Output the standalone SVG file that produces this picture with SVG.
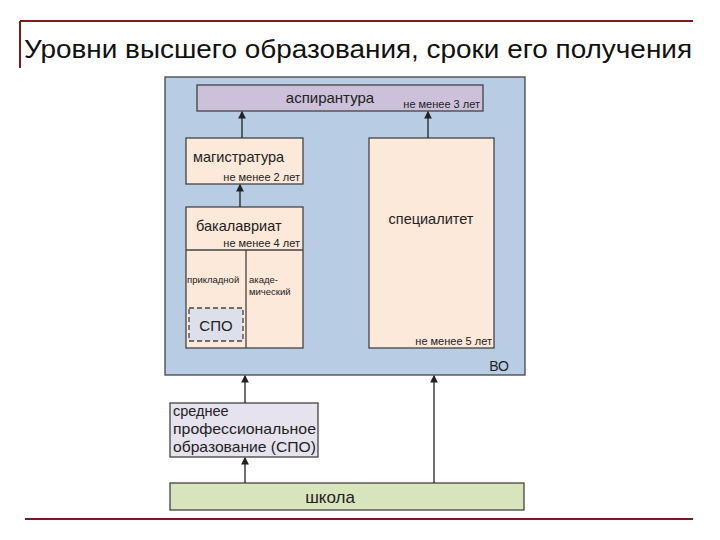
<svg xmlns="http://www.w3.org/2000/svg" width="720" height="540" viewBox="0 0 720 540">
<style>
text{font-family:"Liberation Sans",Arial,sans-serif;fill:#222}
.b{stroke:#444;stroke-width:1.3}
.s{font-size:14.5px}
.sm{font-size:11px}
.c{stroke:#222;stroke-width:1.3;fill:none;marker-end:url(#a)}
</style>
<defs><marker id="a" markerWidth="6" markerHeight="6" refX="5" refY="3" orient="auto"><path d="M0,0L6,3L0,6z" fill="#222"/></marker></defs>
<rect width="720" height="540" fill="#fff"/>
<g id="title">
<path d="M20,21H693M20,21V68M25,519H693" stroke="#7a1a1a" stroke-width="2" fill="none"/>
<text x="24" y="58" font-size="26" textLength="668" lengthAdjust="spacingAndGlyphs" style="fill:#111">Уровни высшего образования, сроки его получения</text>
</g>
<g id="vo"><rect x="165" y="77" width="360" height="298" fill="#b8cce4" class="b"/><text x="509" y="371" font-size="14" text-anchor="end">ВО</text></g>
<g id="aspirantura"><rect x="197" y="85" width="286" height="26" fill="#ccc0da" class="b"/><text x="330" y="103" font-size="15" text-anchor="middle">аспирантура</text><text x="480" y="108" class="sm" text-anchor="end">не менее 3 лет</text></g>
<g id="magistratura"><rect x="186" y="138" width="117" height="46" fill="#fde9d9" class="b"/><text x="193" y="162" class="s">магистратура</text><text x="300" y="181" class="sm" text-anchor="end">не менее 2 лет</text></g>
<g id="bakalavriat"><rect x="186" y="207" width="117" height="141" fill="#fde9d9" class="b"/><path d="M186,250H303M246,250V348" class="b"/><text x="196" y="231" class="s">бакалавриат</text><text x="300" y="247" class="sm" text-anchor="end">не менее 4 лет</text><text x="187" y="283" font-size="9.5">прикладной</text><text x="249" y="283" font-size="9.5">акаде-</text><text x="249" y="295" font-size="9.5">мический</text></g>
<g id="spo-inner"><rect x="189" y="308" width="54" height="33" fill="#dde0ea" stroke="#444" stroke-width="1.3" stroke-dasharray="5,3"/><text x="216" y="331" font-size="15" text-anchor="middle">СПО</text></g>
<g id="specialitet"><rect x="369" y="138" width="125" height="210" fill="#fde9d9" class="b"/><text x="431" y="224" class="s" text-anchor="middle">специалитет</text><text x="492" y="345" class="sm" text-anchor="end">не менее 5 лет</text></g>
<g id="spo"><rect x="170" y="403" width="148" height="54" fill="#e6e2ee" class="b"/><text x="173" y="416" font-size="14.5">среднее</text><text x="173" y="434" font-size="14.5" textLength="143" lengthAdjust="spacingAndGlyphs">профессиональное</text><text x="173" y="452" font-size="14.5" textLength="143" lengthAdjust="spacingAndGlyphs">образование (СПО)</text></g>
<g id="school"><rect x="170" y="483" width="354" height="27" fill="#d8e4bc" class="b"/><text x="330" y="503" font-size="17" text-anchor="middle">школа</text></g>
<g id="connectors">
<path class="c" d="M242,138V112"/><path class="c" d="M428,138V112"/><path class="c" d="M240,207V185"/>
<path class="c" d="M245,403V376"/><path class="c" d="M434,483V376"/><path class="c" d="M245,483V458"/>
</g>
</svg>
